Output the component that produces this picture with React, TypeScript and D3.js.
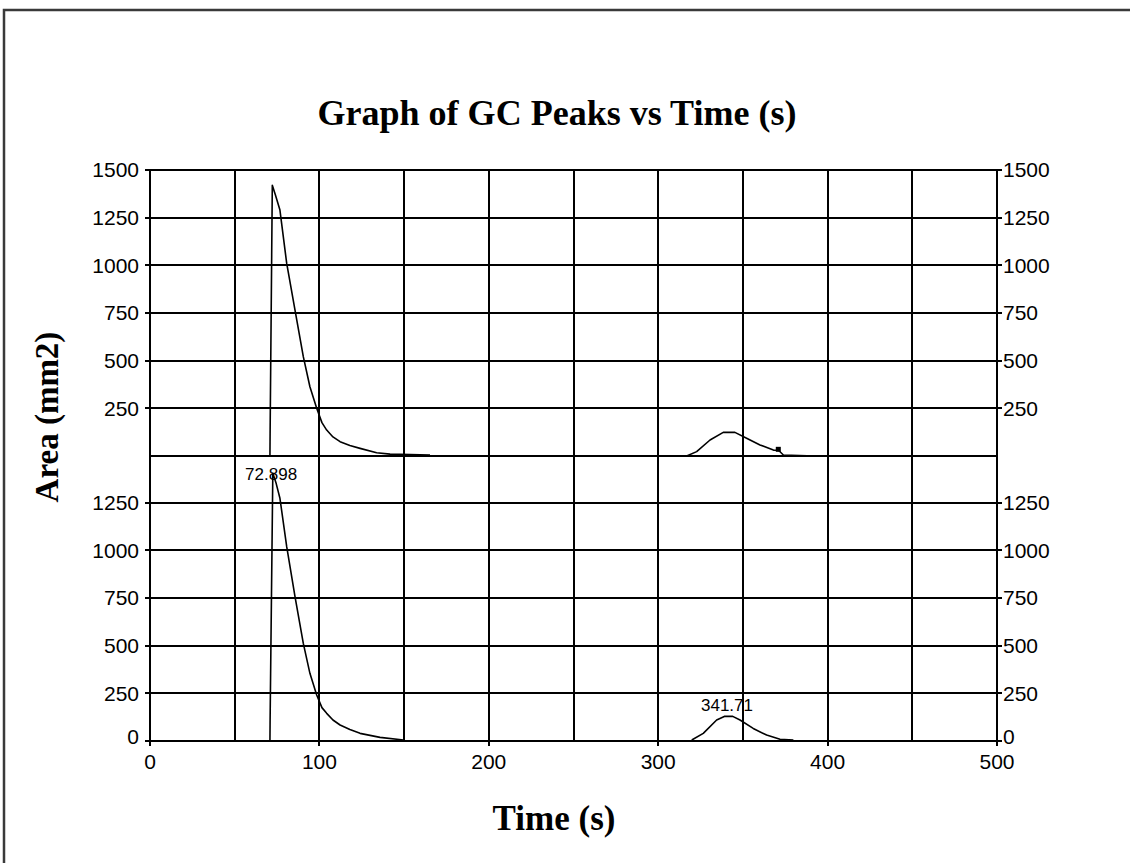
import React from "react";
import * as d3 from "d3";

// ---- data ----
const xTicks = [0, 100, 200, 300, 400, 500];
const xGrid = [0, 50, 100, 150, 200, 250, 300, 350, 400, 450, 500];
const upperTicks = [250, 500, 750, 1000, 1250, 1500];
const lowerTicks = [0, 250, 500, 750, 1000, 1250];

// upper panel traces
const upperTime1 = [70.8, 70.9, 72.2, 74.0, 76.7, 80.7, 85.6, 90.5, 94.4, 98.4, 101.5, 104.3, 108, 112.2, 118, 124, 133.8, 141.7, 165.3];
const upperArea1 = [0, 120, 1420, 1370, 1290, 1010, 765, 521, 363, 250, 175, 136, 100, 75, 55, 40, 17, 10, 5];
const upperTime2 = [316.8, 322.7, 330.6, 338.4, 345.3, 352.2, 360.1, 368, 371, 373.9, 392.6];
const upperArea2 = [0, 23, 84, 124, 124, 93, 58, 31, 30, 5, 0];
const upperMarkerTime = [370.9];
const upperMarkerArea = [35];

// lower panel traces
const lowerTime1 = [70.8, 70.9, 72.5, 74.5, 76.7, 80.7, 85.6, 90.5, 94.4, 98.4, 101.5, 104.3, 108, 112.2, 118, 124, 135.8, 149.6];
const lowerArea1 = [0, 110, 1405, 1350, 1273, 1019, 757, 512, 355, 241, 175, 145, 110, 84, 60, 40, 19, 5];
const lowerTime2 = [319.8, 326.6, 334.5, 339, 344, 348.3, 356.1, 364, 371.9, 379.8];
const lowerArea2 = [5, 40, 110, 129, 129, 110, 66, 31, 9, 5];

const peakLabels = ["72.898", "341.71"];
const peakLabelTimes = [71.5, 340.6];
const peakLabelAreas = [1400, 190];

// ---- layout ----
const W = 1130;
const H = 863;
const left = 150;
const right = 997;

export default function App() {
  const x = d3.scaleLinear().domain([0, 500]).range([left, right]);
  const yU = d3.scaleLinear().domain([0, 1500]).range([456, 170]);
  const yL = d3.scaleLinear().domain([0, 1500]).range([741, 455]);

  const mk = (ts: number[], vs: number[], y: d3.ScaleLinear<number, number>) =>
    d3
      .line<number>()
      .x((_, i) => x(ts[i]))
      .y((v) => y(v))(vs) || "";

  const sans = "'Liberation Sans', Arial, sans-serif";
  const serif = "'Liberation Serif', 'Times New Roman', serif";
  const zeroShift = (v: number) => (v === 0 ? -4 : 0);

  return (
    <svg
      width={W}
      height={H}
      style={{ position: "absolute", left: 0, top: 0, background: "#fff" }}
    >
      <rect x={0} y={0} width={W} height={H} fill="#fff" />
      {/* outer border (top + left only visible) */}
      <rect x={4} y={10} width={1400} height={1200} fill="none" stroke="#3a3a3a" strokeWidth={2.5} />

      {/* title */}
      <text x={557} y={125} textAnchor="middle" fontFamily={serif} fontWeight="bold" fontSize={35} textLength={479} lengthAdjust="spacingAndGlyphs">
        Graph of GC Peaks vs Time (s)
      </text>

      {/* grid */}
      <g stroke="#000" strokeWidth={2} shapeRendering="crispEdges">
        {xGrid.map((v) => (
          <line key={"vg" + v} x1={x(v)} x2={x(v)} y1={yU(1500)} y2={yL(0)} />
        ))}
        {upperTicks.concat([0]).map((v) => (
          <line key={"hu" + v} x1={left} x2={right} y1={yU(v)} y2={yU(v)} />
        ))}
        {lowerTicks.map((v) => (
          <line key={"hl" + v} x1={left} x2={right} y1={yL(v)} y2={yL(v)} />
        ))}
        {/* tick marks */}
        {upperTicks.map((v) => (
          <g key={"tu" + v}>
            <line x1={left - 5} x2={left} y1={yU(v)} y2={yU(v)} />
            <line x1={right} x2={right + 5} y1={yU(v)} y2={yU(v)} />
          </g>
        ))}
        {lowerTicks.map((v) => (
          <g key={"tl" + v}>
            <line x1={left - 5} x2={left} y1={yL(v)} y2={yL(v)} />
            <line x1={right} x2={right + 5} y1={yL(v)} y2={yL(v)} />
          </g>
        ))}
        {xTicks.map((v) => (
          <line key={"tx" + v} x1={x(v)} x2={x(v)} y1={yL(0)} y2={yL(0) + 5} />
        ))}
      </g>

      {/* tick labels */}
      <g fontFamily={sans} fontSize={21} fill="#000">
        {upperTicks.map((v) => (
          <g key={"lu" + v}>
            <text x={left - 11} y={yU(v)} dy="0.35em" textAnchor="end">{v}</text>
            <text x={right + 6} y={yU(v)} dy="0.35em" textAnchor="start">{v}</text>
          </g>
        ))}
        {lowerTicks.map((v) => (
          <g key={"ll" + v}>
            <text x={left - 11} y={yL(v) + zeroShift(v)} dy="0.35em" textAnchor="end">{v}</text>
            <text x={right + 6} y={yL(v) + zeroShift(v)} dy="0.35em" textAnchor="start">{v}</text>
          </g>
        ))}
        {xTicks.map((v) => (
          <text key={"lx" + v} x={x(v)} y={762} dy="0.35em" textAnchor="middle">{v}</text>
        ))}
      </g>

      {/* peak labels */}
      <g fontFamily={sans} fontSize={17} fill="#000">
        {peakLabels.map((s, i) => (
          <text key={s} x={x(peakLabelTimes[i])} y={yL(peakLabelAreas[i])} dy="0.35em" textAnchor="middle">{s}</text>
        ))}
      </g>

      {/* traces */}
      <g fill="none" stroke="#000" strokeWidth={1.6} strokeLinejoin="round">
        <path d={mk(upperTime1, upperArea1, yU)} />
        <path d={mk(upperTime2, upperArea2, yU)} />
        <path d={mk(lowerTime1, lowerArea1, yL)} />
        <path d={mk(lowerTime2, lowerArea2, yL)} />
      </g>
      {upperMarkerTime.map((t, i) => (
        <rect key={"m" + i} x={x(t) - 2.5} y={yU(upperMarkerArea[i]) - 2.5} width={5} height={5} fill="#000" />
      ))}

      {/* axis titles */}
      <text x={554} y={830} textAnchor="middle" fontFamily={serif} fontWeight="bold" fontSize={35}>
        Time (s)
      </text>
      <text
        transform={`translate(58, 417) rotate(-90)`}
        textAnchor="middle"
        fontFamily={serif}
        fontWeight="bold"
        fontSize={33}
      >
        Area (mm2)
      </text>
    </svg>
  );
}
